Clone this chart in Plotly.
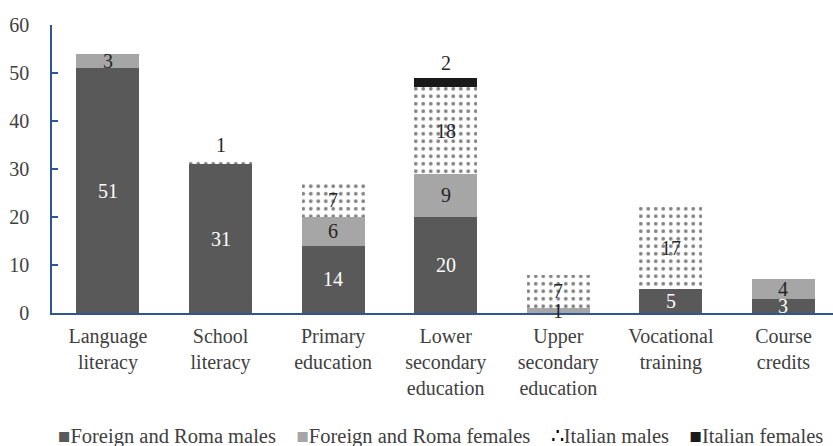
import plotly.graph_objects as go

categories = ["Language<br>literacy", "School<br>literacy", "Primary<br>education",
              "Lower<br>secondary<br>education", "Upper<br>secondary<br>education",
              "Vocational<br>training", "Course<br>credits"]
foreign_males = [51, 31, 14, 20, 0, 5, 3]
foreign_females = [3, 0, 6, 9, 1, 0, 4]
italian_males = [0, 1, 7, 18, 7, 17, 0]
italian_females = [0, 0, 0, 2, 0, 0, 0]
series_names = ["Foreign and Roma males", "Foreign and Roma females",
                "Italian males", "Italian females"]
legend_glyphs = ["■", "■", "∴", "■"]

FONT = "Liberation Serif"
AXIS = "#2F5597"
TXT = "#404040"
fig = go.Figure()
series = [foreign_males, foreign_females, italian_males, italian_females]
fills = ["#595959", "#A6A6A6", "white", "#1A1A1A"]
text_colors = ["white", "#262626", "#262626", "#262626"]
for i, (name, vals) in enumerate(zip(series_names, series)):
    kw = dict(marker_color=fills[i], marker_line_width=0)
    if i == 2:
        kw["marker_pattern"] = dict(shape=".", fgcolor="black", bgcolor="white",
                                    size=7.5, solidity=0.2)
    fig.add_trace(go.Bar(x=list(range(len(categories))), y=vals, name=name, width=0.56,
                         showlegend=False, **kw))

# value labels
base = [0] * len(categories)
totals = [sum(s[j] for s in series) for j in range(len(categories))]
for i, vals in enumerate(series):
    for j, v in enumerate(vals):
        if v > 0:
            top = base[j] + v
            if v <= 2 and top == totals[j] and i >= 2:
                y = top + 3.0
            else:
                y = base[j] + v / 2
            fig.add_annotation(x=j, y=y, text=str(v), showarrow=False,
                               font=dict(family=FONT, size=20, color=text_colors[i]))
        base[j] += v

# legend drawn as a text line (as in the original, clipped at the right edge)
sep = "&nbsp;" * 4
legend_text = sep.join(
    f"<span style='color:{fills[i] if i != 2 else '#000000'}'>{legend_glyphs[i]}</span>{series_names[i]}"
    for i in range(len(series_names)))
fig.add_annotation(xref="paper", yref="paper", x=0.005, y=-0.428, xanchor="left",
                   yanchor="middle", text=legend_text, showarrow=False,
                   font=dict(family=FONT, size=20.5, color=TXT))

fig.update_layout(
    barmode="stack",
    width=833, height=446,
    margin=dict(l=52, r=0, t=25, b=133),
    plot_bgcolor="white", paper_bgcolor="white",
    font=dict(family=FONT, size=20, color=TXT),
    showlegend=False,
)
fig.update_xaxes(range=[-0.497, 6.44], tickvals=list(range(len(categories))),
                 ticktext=categories, showline=True, linecolor=AXIS, linewidth=1.5,
                 ticks="", showgrid=False, tickfont=dict(family=FONT, size=20, color=TXT),
                 ticklabelstandoff=4)
fig.update_yaxes(range=[0, 60], dtick=10, showline=True, linecolor=AXIS, linewidth=1.5,
                 ticks="inside", ticklen=6, tickcolor=AXIS, tickwidth=1.5, showgrid=False,
                 zeroline=False, tickfont=dict(family=FONT, size=20, color=TXT),
                 ticklabelstandoff=17)
fig.write_html("out.html")
